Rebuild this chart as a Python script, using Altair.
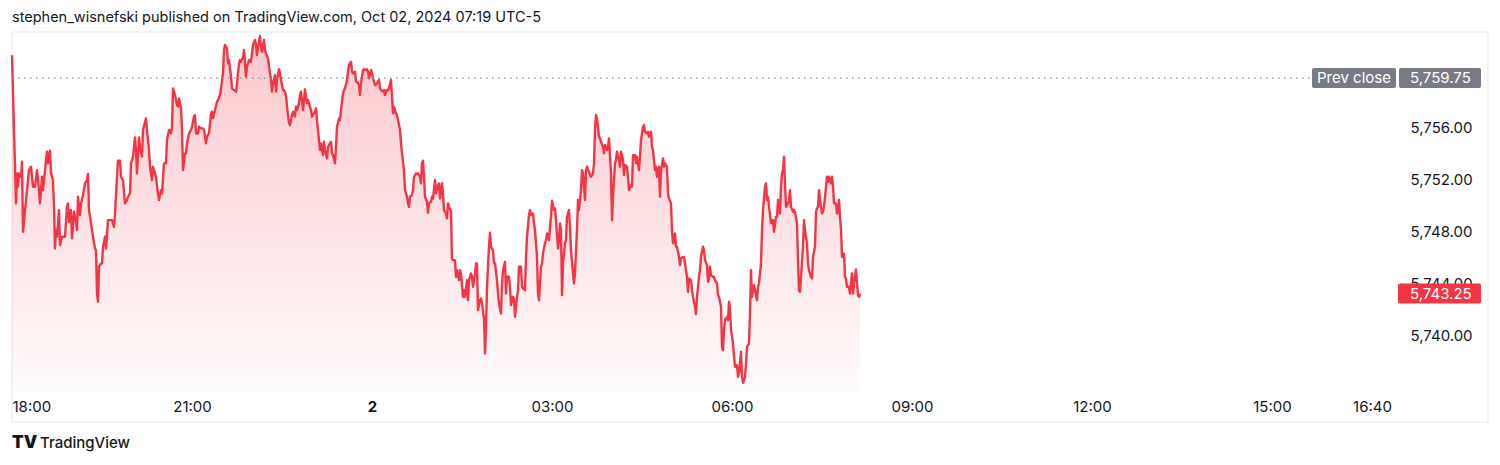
import altair as alt
import pandas as pd

TITLE = "stephen_wisnefski published on TradingView.com, Oct 02, 2024 07:19 UTC-5"
BRAND = "TradingView"
FONT = "Inter"

# minutes after the series origin, and E-mini S&P 500 price
SERIES_ORIGIN = "2024-10-01 17:58"
MINUTES = [
    2, 4, 6, 7, 8, 9, 11, 12, 13, 15, 17, 19,
    21, 23, 25, 27, 28, 30, 32, 33, 35, 37, 38, 40,
    41, 43, 44, 45, 46, 47, 49, 50, 52, 53, 55, 57,
    58, 59, 61, 62, 64, 66, 67, 68, 70, 71, 73, 75,
    77, 78, 79, 81, 83, 85, 86, 87, 88, 89, 91, 92,
    93, 95, 96, 98, 100, 102, 104, 105, 107, 108, 110, 111,
    113, 115, 117, 118, 120, 121, 123, 125, 126, 127, 129, 130,
    132, 133, 136, 137, 139, 140, 142, 143,
    146, 147, 149, 151, 152, 154, 156, 157, 159, 161, 162, 163,
    165, 167, 168, 169, 171, 172, 173, 175, 176, 177, 179, 181,
    182, 184, 185, 186, 188, 189, 191, 193, 194, 196, 197, 199,
    201, 202, 203, 205, 207, 208, 210, 211, 213, 214, 215, 217,
    218, 219, 221, 222, 224, 226, 227, 229, 230, 231, 233, 234,
    235, 236, 237, 239, 241, 242, 243, 245, 246, 247, 248, 250,
    251, 252, 254, 255, 256, 258, 259, 261, 262, 263, 265, 266,
    267, 269, 270, 271, 273, 274, 276, 277, 279, 280, 282, 283,
    285, 286, 287, 289, 290, 291, 293, 294, 295, 297, 298, 299,
    301, 302, 303, 305, 306, 307, 309, 310, 311, 313, 314, 315,
    317, 318, 319, 321, 322, 323, 325, 326, 327, 329, 330, 331,
    333, 334, 335, 337, 338, 339, 341, 342, 343, 345, 346, 347,
    349, 350, 351, 353, 354, 355, 357, 358, 359, 361, 362, 363,
    365, 366, 367, 369, 370, 371, 373, 374, 375, 377, 378, 379,
    381, 382, 383, 384, 386, 387, 388, 390, 391, 392, 394, 395,
    397, 398, 399, 400, 402, 403, 404, 406, 407, 408, 410, 411,
    412, 413, 414, 415, 417, 418, 419, 421, 422, 423,
    425, 426, 428, 429, 430, 432, 433, 434, 436, 437, 438, 439,
    441, 442, 443, 445, 446, 447, 449, 450, 451, 453, 454, 455,
    457, 458, 459, 461, 462, 463, 465, 466, 467, 468, 470, 471,
    472, 474, 475, 476, 477, 479, 480, 481, 483, 484, 485, 487,
    488, 489, 491, 492, 493, 495, 496, 497, 499, 500, 501, 503,
    504, 505, 507, 508, 509, 511, 512, 513, 515, 516, 517, 519,
    520, 521, 523, 524, 525, 527, 528, 529, 531, 532, 533, 535,
    536, 537, 539, 540, 541, 542, 544, 545, 546, 548, 549, 550,
    551, 552, 553, 555, 556, 557, 559, 560, 561, 563, 564,
    565, 567, 568, 569, 571, 572, 573, 575, 576, 577, 579, 580,
    581, 583, 584, 585, 586, 587, 589, 590, 591, 593, 594, 595,
    597, 598, 599, 601, 602, 603, 605, 606, 607, 609, 610, 611,
    613, 614, 615, 617, 618, 619, 621, 622, 623, 625, 626, 627,
    629, 630, 631, 633, 634, 635, 637, 638, 639, 641, 642, 643,
    645, 646, 647, 649, 650, 651, 653, 654, 655, 657, 658, 659,
    661, 662, 663, 665, 666, 667, 669, 670, 671, 673, 674, 675,
    677, 678, 679, 681, 682, 683, 685, 686, 687, 689, 690, 691,
    693, 694, 695, 697, 698, 699, 700, 701, 703, 704,
    705, 707, 708, 709, 711, 712, 713, 714, 715, 717, 718, 719,
    720, 721, 723, 724, 725, 727, 728, 729, 731, 732, 733, 735,
    736, 737, 739, 740, 741, 742, 743, 744, 745, 747, 748, 749,
    751, 752, 753, 755, 756, 757, 758, 759, 761, 762, 763, 764,
    766, 767, 768, 770, 771, 772, 773, 774, 775, 776, 778, 779,
    780, 781, 783, 784, 785, 787, 788, 789, 790, 791, 793, 794,
    795, 797, 798, 799, 801, 802, 803, 805, 806, 807, 808, 809,
    810, 812, 813, 814, 816, 817, 818, 819, 821, 822, 823, 824,
    826, 827, 828, 829, 830, 831, 832, 834, 835, 836, 837, 839,
    840, 841, 842, 843, 844, 846, 847, 848, 849, 850,
]
PRICES = [
    5761.50, 5755.77, 5750.15, 5752.45, 5751.43, 5752.45, 5752.19, 5753.34, 5747.98, 5749.64, 5751.17, 5752.70,
    5752.96, 5751.43, 5751.43, 5752.70, 5752.07, 5750.15, 5752.19, 5751.17, 5752.70, 5754.11, 5753.22, 5754.19,
    5752.45, 5751.94, 5749.89, 5746.70, 5748.11, 5747.60, 5749.64, 5746.96, 5747.60, 5747.60, 5747.60, 5749.89,
    5750.15, 5748.74, 5749.64, 5747.47, 5749.51, 5748.74, 5748.11, 5750.66, 5749.26, 5750.15, 5750.79, 5751.68,
    5751.94, 5752.40, 5749.64, 5748.62, 5747.60, 5746.70, 5746.57, 5743.25, 5742.62, 5745.30, 5745.55, 5745.55,
    5746.83, 5747.60, 5746.70, 5748.87, 5748.87, 5748.87, 5748.36, 5749.38, 5752.19, 5753.42, 5753.42, 5752.19,
    5751.94, 5750.15, 5750.41, 5750.66, 5750.92, 5753.22, 5753.73, 5755.21, 5754.24, 5752.45, 5755.21, 5754.49,
    5753.73, 5755.77, 5756.66, 5755.77, 5754.24, 5752.96, 5751.94, 5752.96,
    5752.19, 5751.43, 5750.41, 5751.17, 5750.92, 5753.22, 5753.22, 5755.00, 5755.77, 5755.51, 5756.02, 5758.96,
    5758.45, 5757.68, 5757.56, 5758.19, 5757.43, 5755.77, 5752.70, 5753.98, 5753.98, 5754.75, 5755.51, 5755.77,
    5756.02, 5756.79, 5756.92, 5755.51, 5755.51, 5756.02, 5755.90, 5755.90, 5755.77, 5754.75, 5755.26, 5755.51,
    5757.05, 5757.17, 5756.66, 5757.30, 5757.94, 5758.07, 5758.45, 5758.96, 5760.11, 5761.90, 5762.28, 5762.03,
    5760.88, 5761.13, 5759.85, 5758.96, 5758.83, 5758.71, 5759.34, 5760.88, 5761.13, 5761.00, 5761.39, 5761.90,
    5760.88, 5759.85, 5760.62, 5761.13, 5761.00, 5761.64, 5762.28, 5762.66, 5762.28, 5761.51, 5762.15, 5762.97,
    5762.15, 5761.77, 5762.66, 5761.90, 5761.64, 5761.26, 5760.62, 5759.60, 5758.71, 5759.34, 5759.98, 5758.71,
    5759.60, 5760.42, 5760.11, 5759.60, 5758.83, 5758.83, 5758.45, 5757.56, 5756.28, 5756.15, 5756.92, 5757.17,
    5756.79, 5757.56, 5757.30, 5757.81, 5758.45, 5758.71, 5757.30, 5758.07, 5758.88, 5757.81, 5758.07, 5757.81,
    5757.30, 5756.79, 5756.92, 5757.17, 5757.43, 5756.53, 5755.00, 5754.24, 5754.75, 5753.85, 5754.87, 5754.24,
    5753.60, 5754.49, 5754.62, 5754.87, 5753.98, 5753.85, 5753.22, 5754.49, 5756.02, 5756.66, 5756.53, 5757.30,
    5758.58, 5758.83, 5758.96, 5759.60, 5760.24, 5760.75, 5761.00, 5760.24, 5760.11, 5760.24, 5759.47, 5759.47,
    5759.22, 5758.45, 5759.34, 5760.37, 5760.42, 5760.37, 5760.42, 5760.24, 5759.73, 5760.37, 5760.11, 5759.73,
    5759.22, 5759.22, 5759.34, 5759.60, 5758.96, 5758.83, 5758.71, 5758.83, 5758.45, 5758.83, 5758.83, 5758.96,
    5759.60, 5758.32, 5757.05, 5757.56, 5757.05, 5756.92, 5756.53, 5755.77, 5754.75, 5753.98, 5752.70, 5751.17,
    5750.66, 5750.15, 5749.89, 5750.66, 5750.79, 5751.17, 5752.19, 5752.45, 5752.40, 5752.45, 5752.19, 5751.68,
    5753.22, 5753.42, 5752.19, 5750.66, 5750.28, 5749.43, 5750.15, 5750.28, 5750.66, 5750.53,
    5751.94, 5750.92, 5751.56, 5751.68, 5750.53, 5751.68, 5750.92, 5749.64, 5749.38, 5749.00, 5750.15, 5749.89,
    5749.51, 5745.94, 5745.81, 5745.81, 5744.53, 5745.04, 5744.28, 5745.04, 5744.79, 5743.00, 5743.51, 5743.00,
    5744.28, 5742.74, 5744.28, 5744.79, 5744.53, 5743.77, 5744.79, 5745.55, 5745.55, 5741.98, 5742.74, 5742.87,
    5742.49, 5741.34, 5738.66, 5740.45, 5743.77, 5746.83, 5747.90, 5746.83, 5746.57, 5745.55, 5745.55, 5744.28,
    5743.25, 5742.49, 5741.72, 5744.02, 5745.04, 5745.68, 5743.25, 5744.53, 5744.53, 5743.77, 5742.36, 5743.00,
    5742.87, 5741.47, 5743.00, 5743.51, 5745.30, 5745.30, 5743.77, 5743.64, 5743.51, 5746.06, 5747.60, 5749.26,
    5749.64, 5749.26, 5749.38, 5748.62, 5748.11, 5746.06, 5743.25, 5742.74, 5745.30, 5745.55, 5746.32, 5747.09,
    5747.34, 5747.85, 5747.34, 5748.36, 5749.13, 5750.35, 5749.64, 5749.77, 5748.87, 5746.70, 5747.34, 5748.62,
    5748.11, 5743.13, 5745.55, 5747.09, 5747.34, 5749.13, 5749.64, 5748.36, 5746.57, 5744.79, 5744.02,
    5744.79, 5748.11, 5750.41, 5749.64, 5751.17, 5752.70, 5752.45, 5750.41, 5752.70, 5752.96, 5752.58, 5752.32,
    5752.19, 5752.45, 5753.22, 5755.77, 5756.92, 5756.66, 5755.26, 5755.13, 5754.87, 5754.49, 5753.98, 5754.62,
    5754.24, 5754.49, 5755.13, 5752.45, 5748.87, 5750.66, 5753.22, 5753.47, 5754.11, 5753.47, 5752.96, 5754.11,
    5753.47, 5752.32, 5753.09, 5752.96, 5752.19, 5751.17, 5751.56, 5751.43, 5753.85, 5753.85, 5753.22, 5753.73,
    5752.70, 5753.73, 5755.00, 5756.02, 5756.15, 5755.64, 5755.51, 5755.64, 5755.26, 5755.64, 5754.49, 5754.24,
    5752.70, 5752.96, 5752.19, 5752.96, 5750.66, 5752.70, 5753.60, 5752.96, 5753.22, 5752.96, 5750.92, 5750.53,
    5750.15, 5748.11, 5747.09, 5747.85, 5746.83, 5746.83, 5746.06, 5745.43, 5745.94, 5746.06, 5746.06, 5745.55,
    5744.53, 5743.38, 5744.40, 5744.28, 5743.51, 5743.00, 5742.23, 5741.67, 5743.00, 5744.53, 5745.04, 5746.06,
    5746.83, 5746.57, 5745.81, 5745.43, 5744.15, 5744.40, 5745.30, 5744.66, 5744.53, 5744.53,
    5744.28, 5744.02, 5743.13, 5743.00, 5742.23, 5739.17, 5738.91, 5740.45, 5741.21, 5741.47, 5741.21, 5742.62,
    5742.23, 5740.45, 5739.42, 5738.53, 5737.64, 5737.76, 5736.87, 5737.12, 5738.78, 5736.87, 5736.41, 5736.87,
    5737.89, 5739.17, 5739.42, 5741.72, 5745.04, 5743.00, 5743.51, 5743.89, 5743.51, 5742.74, 5743.77, 5744.02,
    5745.55, 5748.11, 5749.64, 5751.43, 5751.68, 5750.41, 5750.66, 5749.89, 5748.62, 5748.87, 5748.87, 5747.98,
    5749.13, 5749.13, 5750.41, 5749.38, 5751.43, 5752.45, 5752.70, 5753.73, 5751.68, 5749.89, 5750.15, 5750.41,
    5751.17, 5749.89, 5749.51, 5749.64, 5749.51, 5748.62, 5745.81, 5743.51, 5743.38, 5744.53, 5746.83, 5748.87,
    5748.11, 5747.09, 5745.55, 5745.04, 5744.53, 5744.40, 5746.06, 5746.83, 5749.51, 5749.77, 5749.89, 5751.17,
    5750.41, 5749.38, 5749.51, 5749.89, 5751.43, 5752.19, 5751.81, 5752.19, 5751.68, 5752.19, 5751.43, 5750.15,
    5750.15, 5749.38, 5749.51, 5750.41, 5749.13, 5748.11, 5746.06, 5746.32, 5744.53, 5744.40, 5743.77, 5743.77,
    5743.25, 5744.02, 5744.79, 5743.25, 5744.02, 5745.09, 5744.02, 5743.13, 5743.00, 5743.25,
]
assert len(MINUTES) == len(PRICES)

PREV_CLOSE = 5759.75
LAST_PRICE = 5743.25
Y_TICKS = [5740, 5744, 5748, 5752, 5756]
Y_DOMAIN = [5735.71, 5763.20]
X_START = (2024, 10, 1, 18, 0)
X_END = (2024, 10, 2, 17, 6)
X_TICKS = [
    (2024, 10, 1, 18, 0), (2024, 10, 1, 21, 0), (2024, 10, 2, 0, 0),
    (2024, 10, 2, 3, 0), (2024, 10, 2, 6, 0), (2024, 10, 2, 9, 0),
    (2024, 10, 2, 12, 0), (2024, 10, 2, 15, 0), (2024, 10, 2, 16, 40),
]

W, H = 1386, 359
RED = "#F23645"
GREY = "#787B86"
TEXT = "#131722"


def dt(t):
    return alt.DateTime(year=t[0], month=t[1], date=t[2], hours=t[3], minutes=t[4])


df = pd.DataFrame({
    "time": pd.Timestamp(SERIES_ORIGIN) + pd.to_timedelta(MINUTES, unit="m"),
    "price": PRICES,
})
df["time"] = df["time"].dt.strftime("%Y-%m-%dT%H:%M:%S")

one = pd.DataFrame({"k": [0]})

X_SCALE = alt.Scale(domain=[dt(X_START), dt(X_END)])
Y_SCALE = alt.Scale(domain=Y_DOMAIN, zero=False, nice=False)

X_AXIS = alt.Axis(
    values=[dt(t) for t in X_TICKS],
    labelExpr="(hours(datum.value) == 0 && minutes(datum.value) == 0) ? '2' : timeFormat(datum.value, '%H:%M')",
    labelFontWeight={"condition": {"test": "hours(datum.value) == 0 && minutes(datum.value) == 0", "value": "bold"}, "value": "normal"},
    labelFlush=True, labelOverlap=False, ticks=False, tickSize=0, domain=False, grid=False,
    labelPadding=7, labelFontSize=15, labelColor=TEXT, labelFont=FONT, title=None,
)
Y_AXIS = alt.Axis(
    orient="right", values=Y_TICKS, format=",.2f", labelAlign="left", labelBaseline="middle",
    labelPadding=12, ticks=False, tickSize=0, domain=False, grid=False, labelOverlap=False,
    labelFontSize=15, labelColor=TEXT, labelFont=FONT, title=None,
)

gradient = alt.Gradient(
    gradient="linear",
    stops=[alt.GradientStop(color="rgba(242,54,69,0.28)", offset=0),
           alt.GradientStop(color="rgba(242,54,69,0.02)", offset=1)],
    x1=1, x2=1, y1=0, y2=1,
)

area = alt.Chart(df).mark_area(color=gradient).encode(
    x=alt.X("time:T", scale=X_SCALE, axis=X_AXIS),
    y=alt.Y("price:Q", scale=Y_SCALE, axis=Y_AXIS),
    y2=alt.datum(Y_DOMAIN[0]),
)
line = alt.Chart(df).mark_line(color=RED, strokeWidth=2.4, strokeJoin="round").encode(
    x=alt.X("time:T", scale=X_SCALE, axis=X_AXIS),
    y=alt.Y("price:Q", scale=Y_SCALE, axis=Y_AXIS),
)

prev_line = alt.Chart(one).mark_rule(color="#8a8d96", strokeWidth=1.2, strokeDash=[1.5, 4.5]).encode(
    x=alt.value(0), x2=alt.value(1298),
    y=alt.YDatum(PREV_CLOSE, scale=Y_SCALE, axis=Y_AXIS),
)


def box(x0, x1, value, color):
    return alt.Chart(one).mark_rect(color=color, yOffset=-10, y2Offset=10, cornerRadius=2).encode(
        x=alt.value(x0), x2=alt.value(x1),
        y=alt.YDatum(value, scale=Y_SCALE, axis=Y_AXIS), y2=alt.datum(value),
    )


def label(x, value, txt, align):
    return alt.Chart(one).mark_text(
        align=align, baseline="middle", color="white", fontSize=15, font=FONT
    ).encode(
        x=alt.value(x), y=alt.YDatum(value, scale=Y_SCALE, axis=Y_AXIS), text=alt.value(txt)
    )


prev_box = box(1300, 1384, PREV_CLOSE, GREY)
prev_val_box = box(1387, 1469, PREV_CLOSE, GREY)
last_box = box(1386, 1469, LAST_PRICE, RED)
prev_txt = label(1342, PREV_CLOSE, "Prev close", "center")
prev_val_txt = label(1398, PREV_CLOSE, f"{PREV_CLOSE:,.2f}", "left")
last_txt = label(1398, LAST_PRICE, f"{LAST_PRICE:,.2f}", "left")

frame = alt.Chart(one).mark_rect(fill="transparent", stroke="#E6E8EE", strokeWidth=1).encode(
    x=alt.value(0), x2=alt.value(1476), y=alt.value(-1), y2=alt.value(389),
)
title = alt.Chart(one).mark_text(align="left", baseline="middle", fontSize=14.5, font=FONT, color=TEXT).encode(
    x=alt.value(0), y=alt.value(-15), text=alt.value(TITLE),
)
logo = alt.Chart(one).mark_text(align="left", baseline="middle", fontSize=17, font=FONT, fontWeight=900, color=TEXT).encode(
    x=alt.value(0), y=alt.value(410), text=alt.value("TV"),
)
brand = alt.Chart(one).mark_text(align="left", baseline="middle", fontSize=15, font=FONT, fontWeight=500, color=TEXT).encode(
    x=alt.value(28), y=alt.value(410), text=alt.value(BRAND),
)

chart = alt.layer(
    frame, area, line, prev_line, prev_box, prev_val_box, last_box,
    prev_txt, prev_val_txt, last_txt, title, logo, brand,
).properties(
    width=W, height=H,
    background="white",
    autosize=alt.AutoSizeParams(type="none"),
    padding={"left": 4, "top": 25, "right": 94, "bottom": 60},
).configure_view(stroke=None, strokeWidth=0)

chart.save("out.html", embed_options={"renderer": "svg", "actions": False})
